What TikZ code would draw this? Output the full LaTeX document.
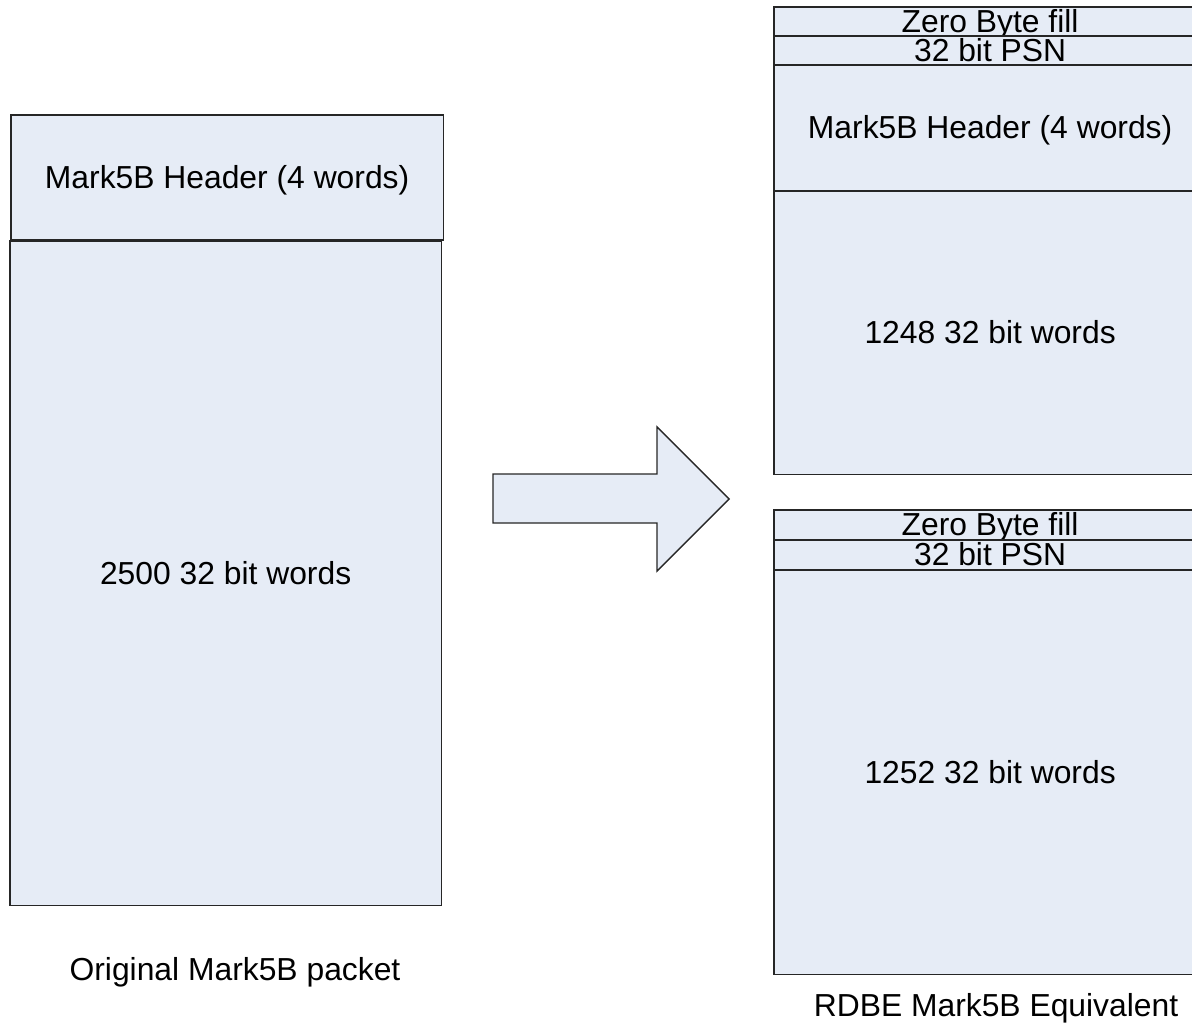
\documentclass[tikz,border=0pt]{standalone}
\usepackage{fontspec}
\setmainfont{Liberation Sans}
\usepackage{tikz}
\usetikzlibrary{positioning}
\definecolor{fieldfill}{RGB}{230,236,246}

\begin{document}
\begin{tikzpicture}[x=0.01cm, y=-0.01cm, node distance=0pt]
\tikzstyle{field}=[rectangle,draw=black!85,fill=fieldfill,line width=0.4pt,inner sep=0pt,outer sep=0pt,minimum width=4.32cm,anchor=north west,text height=7.15pt,text depth=0.95pt,font=\fontsize{9.05}{11}\selectfont]
\tikzstyle{caption}=[font=\fontsize{9.05}{11}\selectfont]
\useasboundingbox (0,0) rectangle (1192,1024);
% original packet
\node[field,minimum height=1.25cm] (hdr) at (11,115) {Mark5B Header (4 words)};
\node[field,minimum width=4.31cm,minimum height=6.64cm] (data) at (10,241) {2500 32 bit words};
\node[caption] (orig) at (235,972) {Original Mark5B packet};
% first RDBE packet
\node[field,minimum height=0.29cm] (zeroA) at (774,7) {Zero Byte fill};
\node[field,minimum height=0.29cm] (psnA) [below=of zeroA] {32 bit PSN};
\node[field,minimum height=1.26cm] (hdrA) [below=of psnA] {Mark5B Header (4 words)};
\node[field,minimum height=2.83cm] (dataA) [below=of hdrA] {1248 32 bit words};
% second RDBE packet
\node[field,minimum height=0.30cm] (zeroB) at (774,510) {Zero Byte fill};
\node[field,minimum height=0.30cm] (psnB) [below=of zeroB] {32 bit PSN};
\node[field,minimum height=4.04cm] (dataB) [below=of psnB] {1252 32 bit words};
\node[caption] (rdbe) at (996,1008) {RDBE Mark5B Equivalent};
% block arrow
\draw[draw=black!85,fill=fieldfill,line width=0.4pt] (493,474) -- (657,474) -- (657,427) -- (729,499)
  -- (657,571) -- (657,523) -- (493,523) -- cycle;
\end{tikzpicture}
\end{document}
